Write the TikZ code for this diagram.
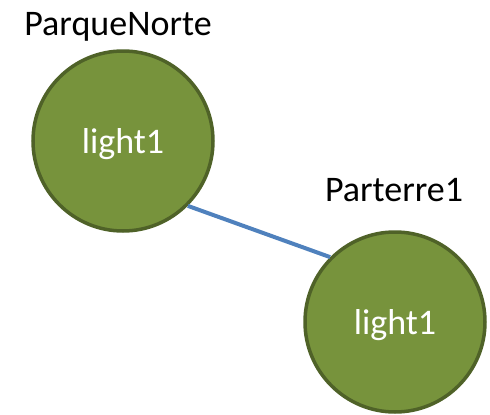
\documentclass[tikz,border=0pt]{standalone}
\usepackage{fontspec}
\setmainfont{Carlito}
\usepackage{xcolor}
\usepackage{tikz}
\usetikzlibrary{arrows.meta}

\definecolor{lampgreen}{RGB}{119,147,60}
\definecolor{lampedge}{RGB}{79,98,40}
\definecolor{linkblue}{RGB}{79,129,189}

\tikzset{
    lamp/.style={circle, fill=lampgreen, draw=lampedge, line width=3.5pt,
        minimum size=180pt, inner sep=0pt, text=white, text depth=0pt},
    zone/.style={anchor=base, text=black},
    link/.style={draw=linkblue, line width=4pt}
}

\begin{document}
\begin{tikzpicture}[x=1pt, y=-1pt, font=\fontsize{36}{40}\selectfont]
    \useasboundingbox (0,0) rectangle (490,415);

    % park zones
    \node[zone] (parque) at (118,35) {ParqueNorte};
    \node[zone] (parterre) at (394,201) {Parterre1};

    % lights
    \node[lamp] (lightA) at (123,141) {light1};
    \node[lamp] (lightB) at (395,322) {light1};

    \draw[link] (lightA.-45) -- (lightB.135);
\end{tikzpicture}
\end{document}
